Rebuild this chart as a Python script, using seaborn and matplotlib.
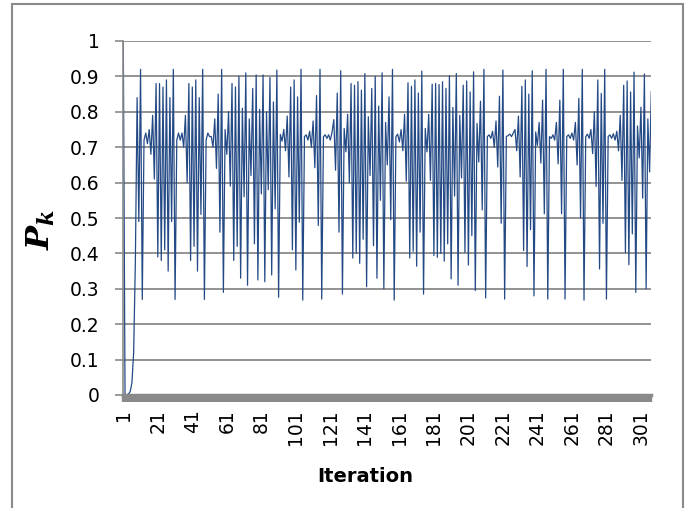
import numpy as np
import pandas as pd
import matplotlib
matplotlib.use('Agg')
import matplotlib.pyplot as plt
import matplotlib.patches as mpatches
import seaborn as sns

# P_k values, in iteration order
pk_part1 = [1.0, 0.0002, 0.0007, 0.0026, 0.0097, 0.035, 0.12, 0.38, 0.84, 0.49,
            0.92, 0.27, 0.72, 0.74, 0.71, 0.75, 0.68, 0.79, 0.61, 0.88,
            0.39, 0.88, 0.38, 0.87, 0.41, 0.89, 0.35, 0.84, 0.49, 0.92,
            0.27, 0.72, 0.74, 0.72, 0.74, 0.70, 0.79, 0.60, 0.88, 0.38,
            0.87, 0.42, 0.89, 0.35, 0.84, 0.51, 0.92, 0.27, 0.72, 0.74,
            0.73, 0.73, 0.70, 0.78, 0.64, 0.85, 0.46, 0.92, 0.29, 0.75]
pk_part2 = [0.68, 0.80, 0.59, 0.88, 0.38, 0.87, 0.42, 0.90, 0.33, 0.81,
            0.56, 0.91, 0.31, 0.78, 0.62, 0.866, 0.427, 0.904, 0.325, 0.807,
            0.568, 0.904, 0.32, 0.80, 0.58, 0.897, 0.339, 0.828, 0.526, 0.918,
            0.276, 0.736, 0.717, 0.75, 0.69, 0.788, 0.616, 0.87, 0.41, 0.89,
            0.353, 0.842, 0.488, 0.92, 0.268, 0.73, 0.735, 0.72, 0.745, 0.70,
            0.774, 0.642, 0.846, 0.479, 0.92, 0.271, 0.73, 0.735, 0.725, 0.735]
pk_part3 = [0.72, 0.743, 0.778, 0.635, 0.853, 0.46, 0.916, 0.285, 0.753, 0.687,
            0.793, 0.60, 0.88, 0.387, 0.875, 0.40, 0.885, 0.372, 0.861, 0.44,
            0.908, 0.306, 0.786, 0.62, 0.866, 0.422, 0.90, 0.33, 0.816, 0.55,
            0.91, 0.30, 0.77, 0.65, 0.842, 0.495, 0.92, 0.268, 0.73, 0.737,
            0.715, 0.75, 0.69, 0.793, 0.604, 0.882, 0.387, 0.872, 0.406, 0.89,
            0.364, 0.853, 0.46, 0.915, 0.285, 0.753, 0.687, 0.793, 0.606, 0.878,
            0.394, 0.88, 0.389, 0.877, 0.40, 0.885, 0.378, 0.866, 0.427, 0.902,
            0.328, 0.812, 0.562, 0.908, 0.31, 0.79, 0.613, 0.875, 0.403, 0.887,
            0.367, 0.856, 0.45, 0.913, 0.295, 0.767, 0.658, 0.83, 0.523, 0.92,
            0.274, 0.73, 0.735, 0.725, 0.745, 0.70, 0.774, 0.644, 0.844, 0.485,
            0.918, 0.271]
pk_part4 = [0.73, 0.733, 0.737, 0.73, 0.74, 0.75, 0.69, 0.788, 0.616, 0.872,
            0.408, 0.89, 0.363, 0.85, 0.467, 0.916, 0.28, 0.743, 0.705, 0.77,
            0.655, 0.833, 0.512, 0.92, 0.271, 0.73, 0.725, 0.735, 0.72, 0.77,
            0.653, 0.833, 0.512, 0.92, 0.271, 0.73, 0.735, 0.725, 0.74, 0.72,
            0.77, 0.65, 0.838, 0.50, 0.92, 0.268, 0.73, 0.737, 0.725, 0.75,
            0.682, 0.80, 0.589, 0.89, 0.356, 0.852, 0.485, 0.92, 0.271, 0.73,
            0.735, 0.725, 0.738, 0.72, 0.745, 0.69, 0.79, 0.606, 0.875, 0.403,
            0.887, 0.368, 0.856, 0.455, 0.912, 0.29, 0.76, 0.67, 0.813, 0.556,
            0.907, 0.30, 0.78, 0.63, 0.858]

pk = pk_part1 + pk_part2 + pk_part3 + pk_part4
iteration = list(range(1, len(pk) + 1))
x_tick_labels = list(range(1, 302, 20))
y_tick_labels = ['0', '0.1', '0.2', '0.3', '0.4', '0.5', '0.6', '0.7', '0.8', '0.9', '1']

df = pd.DataFrame({'Iteration': iteration, 'Pk': pk})

sns.set_style('white')
plt.rcParams['font.family'] = ['DejaVu Sans']
plt.rcParams['mathtext.fontset'] = 'custom'
plt.rcParams['mathtext.it'] = 'DejaVu Serif:italic:bold'
plt.rcParams['mathtext.rm'] = 'DejaVu Serif:bold'

grey = '#8a8a8a'
W, H = 693, 508
fig = plt.figure(figsize=(W / 100, H / 100), dpi=100)
ax = fig.add_axes([123.3 / W, 1 - 395 / H, (651.3 - 123.3) / W, (395 - 41) / H])

sns.lineplot(data=df, x='Iteration', y='Pk', color='#244a86', linewidth=0.9, ax=ax)

ax.set_xlim(1, len(pk))
ax.set_ylim(0, 1)
ax.set_yticks(np.linspace(0, 1, 11))
ax.set_yticklabels(y_tick_labels)
ax.yaxis.grid(True, color=grey, linewidth=1.3)
ax.xaxis.grid(False)
ax.set_axisbelow(True)

# a tick at every category, labels every 20
ax.set_xticks(x_tick_labels)
ax.set_xticklabels([str(t) for t in x_tick_labels], rotation=90)
ax.set_xticks(iteration, minor=True)
ax.tick_params(axis='x', which='both', bottom=True, direction='out', length=5,
               width=1.7, color=grey, labelsize=13.5, labelcolor='black', pad=5)
ax.tick_params(axis='y', which='major', left=True, direction='out', length=6,
               width=1.2, color=grey, labelsize=13.5, labelcolor='black', pad=11)

for side in ['top', 'right']:
    ax.spines[side].set_visible(False)
ax.spines['left'].set_color(grey)
ax.spines['left'].set_linewidth(1.2)
ax.spines['bottom'].set_color(grey)
ax.spines['bottom'].set_linewidth(2.5)

ax.set_xlabel('')
ax.set_ylabel('')
fig.text(365 / W, 1 - 476 / H, 'Iteration', ha='center', va='center',
         fontsize=14, fontweight='bold', color='black')
fig.text(41 / W, 1 - 229 / H, '$P_k$', rotation=90, ha='center', va='center',
         fontsize=23, color='black')

# chart area border
fig.add_artist(mpatches.Rectangle((12 / W, -0.02), (683 - 12) / W, 1 - 4 / H + 0.02,
                                  transform=fig.transFigure, fill=False,
                                  edgecolor=grey, linewidth=1.5))

fig.savefig('out.png', dpi=100)
